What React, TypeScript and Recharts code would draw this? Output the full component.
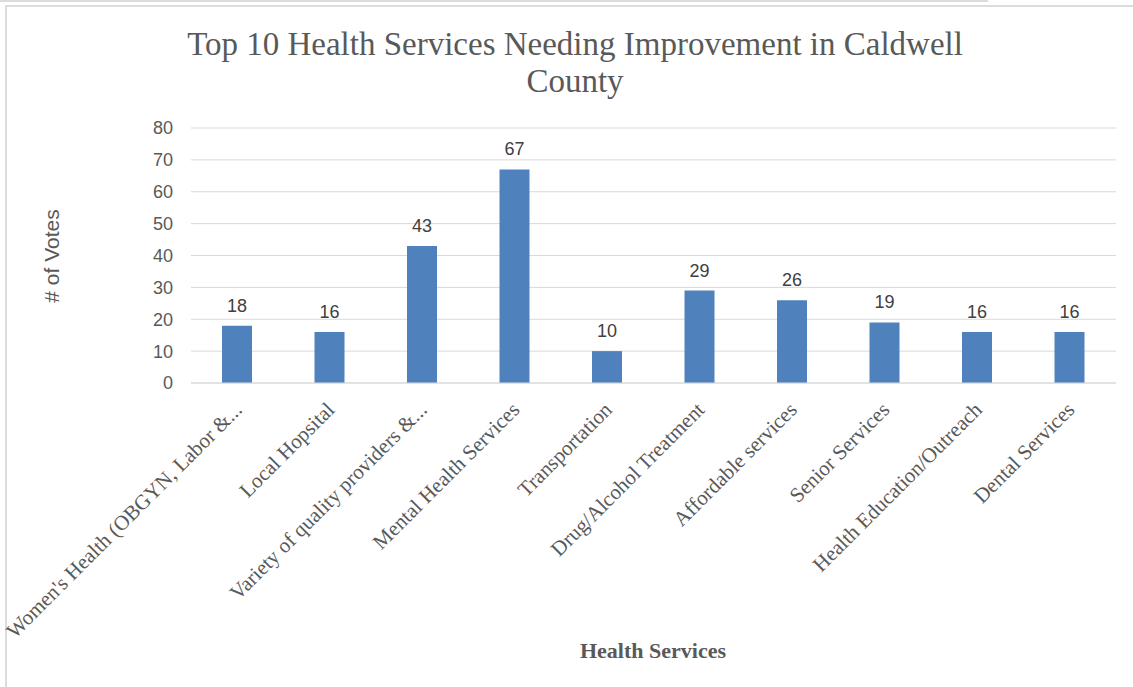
import React from 'react';
import { BarChart, Bar, XAxis, YAxis, CartesianGrid, LabelList } from 'recharts';

const services = [
  "Women's Health (OBGYN, Labor &...",
  'Local Hopsital',
  'Variety  of quality providers &...',
  'Mental Health Services',
  'Transportation',
  'Drug/Alcohol Treatment',
  'Affordable services',
  'Senior Services',
  'Health Education/Outreach',
  'Dental Services',
];
const votes = [18, 16, 43, 67, 10, 29, 26, 19, 16, 16];
const yTicks = [0, 10, 20, 30, 40, 50, 60, 70, 80];

const data = services.map((name, i) => ({ name, votes: votes[i] }));

const SERIF = '"Liberation Serif", "DejaVu Serif", serif';
const SANS = '"Liberation Sans", Arial, sans-serif';

// rotated category labels, anchored at their end like Excel does
const CategoryTick = (props: any) => {
  const { x, y, payload } = props;
  return (
    <g transform={`translate(${x + 6},${y + 20})`}>
      <text
        x={0}
        y={0}
        textAnchor="end"
        transform="rotate(-45)"
        fill="#595959"
        fontFamily={SERIF}
        fontSize={21}
      >
        {payload.value}
      </text>
    </g>
  );
};

export default function App() {
  return (
    <div style={{ position: 'absolute', left: 0, top: 0, width: 1133, height: 687, background: '#fff' }}>
      <div style={{ position: 'absolute', left: 0, top: 0, width: 988, height: 2, background: '#dcdcdc' }} />
      <div
        style={{
          position: 'absolute',
          left: 5,
          top: 5,
          right: 0,
          bottom: 0,
          borderTop: '2px solid #dcdcdc',
          borderLeft: '2px solid #dcdcdc',
        }}
      />
      <div
        style={{
          position: 'absolute',
          left: 0,
          width: 1150,
          top: 26,
          textAlign: 'center',
          fontFamily: SERIF,
          fontSize: 33,
          lineHeight: '37px',
          color: '#595959',
        }}
      >
        Top 10 Health Services Needing Improvement in Caldwell
        <br />
        County
      </div>
      <div
        style={{
          position: 'absolute',
          left: 52,
          top: 256,
          transform: 'translate(-50%, -50%) rotate(-90deg)',
          whiteSpace: 'nowrap',
          fontFamily: SANS,
          fontSize: 21,
          color: '#595959',
        }}
      >
        # of Votes
      </div>
      <div
        style={{
          position: 'absolute',
          left: 653,
          top: 651,
          transform: 'translate(-50%, -50%)',
          whiteSpace: 'nowrap',
          fontFamily: SERIF,
          fontWeight: 'bold',
          fontSize: 22,
          color: '#595959',
        }}
      >
        Health Services
      </div>
      <div style={{ position: 'absolute', left: 0, top: 0 }}>
        <BarChart
          width={1133}
          height={687}
          data={data}
          margin={{ top: 128, right: 17, left: 131, bottom: 34 }}
          barCategoryGap="34%"
        >
          <CartesianGrid vertical={false} stroke="#d9d9d9" />
          <XAxis
            dataKey="name"
            interval={0}
            height={270}
            tickLine={false}
            axisLine={{ stroke: '#d9d9d9' }}
            tick={<CategoryTick />}
          />
          <YAxis
            width={60}
            domain={[0, 80]}
            ticks={yTicks}
            interval={0}
            tickLine={false}
            axisLine={false}
            tickMargin={12}
            tick={{ fill: '#595959', fontFamily: SANS, fontSize: 18 }}
          />
          <Bar dataKey="votes" fill="#4f81bd" barSize={30} isAnimationActive={false}>
            <LabelList
              dataKey="votes"
              position="top"
              offset={14}
              fill="#404040"
              fontFamily={SANS}
              fontSize={18}
            />
          </Bar>
        </BarChart>
      </div>
    </div>
  );
}
